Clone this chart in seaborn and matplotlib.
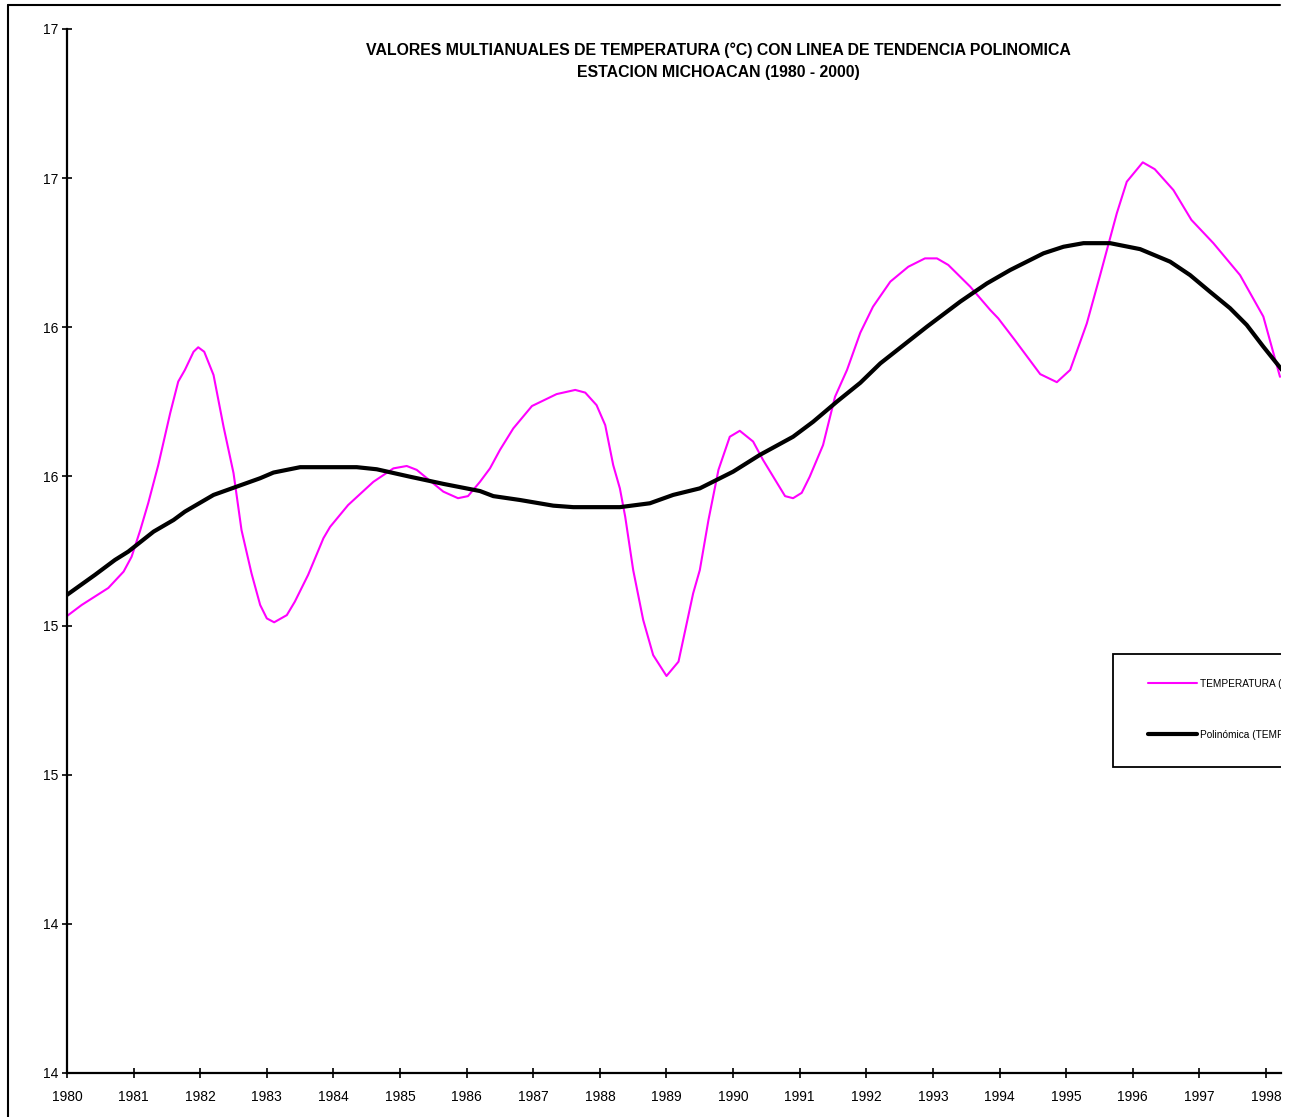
import matplotlib
matplotlib.use("Agg")
import matplotlib.pyplot as plt
from matplotlib.lines import Line2D
from matplotlib.patches import Rectangle
import seaborn as sns
import pandas as pd

# ---- data ----
temp_year = [1980.00, 1980.22, 1980.62, 1980.85, 1980.97, 1981.10, 1981.22, 1981.37, 1981.55, 1981.67,
             1981.77, 1981.90, 1981.97, 1982.06, 1982.20, 1982.35, 1982.50, 1982.62, 1982.77, 1982.90,
             1983.00, 1983.11, 1983.30, 1983.42, 1983.62, 1983.85, 1983.95, 1984.22, 1984.60, 1984.90,
             1985.10, 1985.25, 1985.65, 1985.87, 1986.02, 1986.20, 1986.35, 1986.50, 1986.70, 1986.98,
             1987.35, 1987.63, 1987.78, 1987.95, 1988.08, 1988.20, 1988.30, 1988.38, 1988.50, 1988.65,
             1988.80, 1989.00, 1989.18, 1989.40, 1989.50, 1989.63, 1989.78, 1989.95, 1990.10, 1990.30,
             1990.45, 1990.78, 1990.90, 1991.03, 1991.15, 1991.35, 1991.53, 1991.71, 1991.91, 1992.10,
             1992.36, 1992.63, 1992.88, 1993.06, 1993.23, 1993.56, 1993.86, 1993.98, 1994.23, 1994.61,
             1994.86, 1995.06, 1995.31, 1995.51, 1995.76, 1995.91, 1996.15, 1996.33, 1996.61, 1996.88,
             1997.21, 1997.61, 1997.96, 1998.21]
temp_value = [15.532, 15.569, 15.626, 15.681, 15.731, 15.820, 15.911, 16.038, 16.213, 16.318,
              16.357, 16.418, 16.433, 16.418, 16.340, 16.167, 16.011, 15.820, 15.675, 15.569,
              15.524, 15.511, 15.535, 15.580, 15.670, 15.793, 15.831, 15.904, 15.982, 16.027,
              16.035, 16.022, 15.949, 15.927, 15.934, 15.982, 16.027, 16.089, 16.161, 16.236,
              16.276, 16.290, 16.281, 16.239, 16.172, 16.038, 15.960, 15.865, 15.686, 15.519,
              15.401, 15.331, 15.379, 15.608, 15.686, 15.854, 16.022, 16.133, 16.153, 16.117,
              16.055, 15.934, 15.927, 15.945, 15.999, 16.105, 16.267, 16.357, 16.482, 16.569,
              16.653, 16.703, 16.731, 16.731, 16.709, 16.636, 16.558, 16.530, 16.457, 16.343,
              16.316, 16.357, 16.513, 16.675, 16.882, 16.988, 17.053, 17.030, 16.960, 16.860,
              16.782, 16.675, 16.536, 16.334]

trend_year = [1980.00, 1980.42, 1980.72, 1980.92, 1981.30, 1981.60, 1981.77, 1982.20, 1982.55, 1982.90,
              1983.10, 1983.50, 1984.35, 1984.65, 1985.15, 1985.65, 1986.20, 1986.40, 1986.80, 1987.30,
              1987.60, 1988.30, 1988.75, 1989.10, 1989.50, 1990.00, 1990.40, 1990.90, 1991.20, 1991.56,
              1991.91, 1992.21, 1992.91, 1993.41, 1993.81, 1994.16, 1994.66, 1994.96, 1995.26, 1995.66,
              1996.11, 1996.56, 1996.86, 1997.16, 1997.46, 1997.71, 1997.96, 1998.24]
trend_value = [15.603, 15.670, 15.720, 15.748, 15.815, 15.854, 15.882, 15.938, 15.966, 15.994,
               16.013, 16.031, 16.031, 16.024, 15.999, 15.975, 15.951, 15.934, 15.921, 15.902,
               15.897, 15.897, 15.910, 15.938, 15.960, 16.016, 16.072, 16.133, 16.183, 16.251,
               16.314, 16.379, 16.502, 16.586, 16.647, 16.692, 16.748, 16.770, 16.782, 16.782,
               16.762, 16.720, 16.675, 16.619, 16.564, 16.508, 16.435, 16.357]

x_ticks = list(range(1980, 1999))
x_tick_labels = [str(y) for y in x_ticks]
y_ticks = [14.0, 14.5, 15.0, 15.5, 16.0, 16.5, 17.0, 17.5]
y_tick_labels = ["14", "14", "15", "15", "16", "16", "17", "17"]

title_line1 = "VALORES MULTIANUALES DE TEMPERATURA (°C) CON LINEA DE TENDENCIA POLINOMICA"
title_line2 = "ESTACION MICHOACAN (1980 - 2000)"
series_label = "TEMPERATURA (°C)"
trend_label = "Polinómica (TEMPERATURA (°C))"

# ---- styling ----
sns.set_theme(style="white")
plt.rcParams["font.family"] = ["Liberation Sans", "DejaVu Sans"]
plt.rcParams["text.color"] = "black"

W, H = 1294, 1117
fig = plt.figure(figsize=(W / 100, H / 100), dpi=100)
fig.patch.set_facecolor("white")
ax = fig.add_axes([67 / W, 1 - 1073 / H, (1281 - 67) / W, (1073 - 29) / H])
ax.set_facecolor("white")

df_temp = pd.DataFrame({"year": temp_year, "value": temp_value})
df_trend = pd.DataFrame({"year": trend_year, "value": trend_value})

sns.lineplot(data=df_temp, x="year", y="value", ax=ax, color="#FF00FF", linewidth=1.5,
             sort=False, estimator=None, label=series_label)
sns.lineplot(data=df_trend, x="year", y="value", ax=ax, color="black", linewidth=3.0,
             sort=False, estimator=None, label=trend_label)

ax.set_xlim(1980, 1998 + 15 / 66.61)
ax.set_ylim(14, 17.5)
ax.set_xticks(x_ticks)
ax.set_xticklabels(x_tick_labels)
ax.set_yticks(y_ticks)
ax.set_yticklabels(y_tick_labels)
ax.set_xlabel("")
ax.set_ylabel("")

for s in ["top", "right"]:
    ax.spines[s].set_visible(False)
for s in ["left", "bottom"]:
    ax.spines[s].set_color("black")
    ax.spines[s].set_linewidth(1.6)

ax.tick_params(axis="both", which="major", direction="inout", length=7, width=1.2, color="black",
               labelsize=10, labelcolor="black", bottom=True, left=True, top=False, right=False)
ax.tick_params(axis="y", pad=3)
ax.tick_params(axis="x", pad=8.5)
ax.grid(False)

# legend box (clipped at the plot's right edge, as in the reference)
x0 = (1113 - 67) / (1281 - 67)
y_top = (1073 - 654) / (1073 - 29)
y_bot = (1073 - 767) / (1073 - 29)
box = Rectangle((x0, y_bot), 0.5, y_top - y_bot, transform=ax.transAxes, facecolor="white",
                edgecolor="black", linewidth=1.3, clip_on=True, zorder=5)
ax.add_patch(box)

leg = ax.legend(loc="upper left",
                bbox_to_anchor=((1148 - 67) / (1281 - 67), (1073 - 679) / (1073 - 29)),
                borderaxespad=0, fontsize=7.3, frameon=False,
                handlelength=4.85, handletextpad=0.3, labelspacing=4.0, borderpad=0)
leg.set_zorder(6)
for a in leg.findobj():
    if a is leg:
        continue
    a.set_clip_on(True)
    a.set_clip_box(ax.bbox)
for t in leg.get_texts():
    t.set_color("black")

# title
fig.text(718 / W, 1 - 50 / H, title_line1, ha="center", va="center", fontsize=11.4,
         fontweight="bold", color="black")
fig.text(718 / W, 1 - 73 / H, title_line2, ha="center", va="center", fontsize=11.4,
         fontweight="bold", color="black")

# outer chart frame (left and top edges visible)
fig.add_artist(Line2D([8 / W, 8 / W], [0, 1 - 5 / H], transform=fig.transFigure, color="black", linewidth=1.5))
fig.add_artist(Line2D([8 / W, 1280 / W], [1 - 5 / H, 1 - 5 / H], transform=fig.transFigure, color="black", linewidth=1.5))

fig.savefig("out.png", dpi=100)
